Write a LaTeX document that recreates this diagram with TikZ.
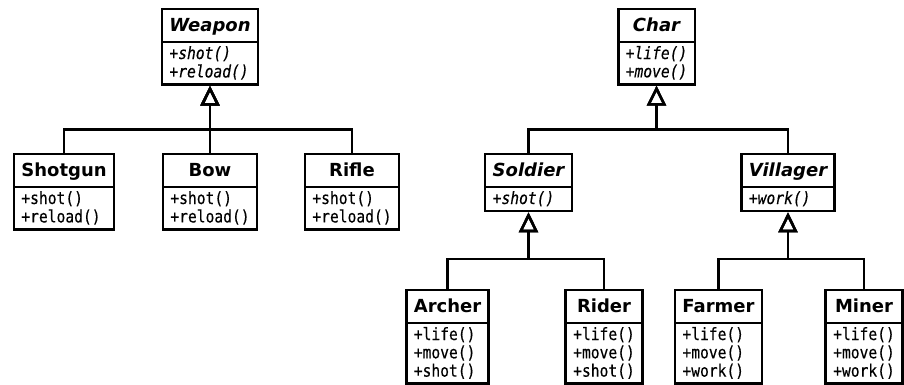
\documentclass[tikz,border=0pt]{standalone}
\usepackage{fontspec}
\setmainfont{DejaVu Sans}
\setmonofont[FakeStretch=0.86,FakeBold=0.4]{DejaVu Sans Mono}
\usepackage{tikz}
\usetikzlibrary{calc}
\usetikzlibrary{shapes.multipart,arrows.meta}

\tikzset{
    class/.style={draw, line width=2.6pt, rectangle split, rectangle split parts=2,
        rectangle split part align={center,left}, inner xsep=7.5pt, inner ysep=2pt, anchor=north},
    isa/.style={line width=2.6pt, -{Triangle[open,length=20pt,width=19pt]}},
}
\newcommand{\cname}[1]{\rule[-7pt]{0pt}{26.4pt}{\fontsize{18}{22}\selectfont\bfseries #1}}
\newcommand{\aname}[1]{\rule[-7pt]{0pt}{26.4pt}{\fontsize{18}{22}\selectfont\bfseries\itshape #1}}
\newcommand{\ops}[1]{{\fontsize{17}{18}\selectfont\ttfamily
    \raisebox{0pt}[13.7pt][\dimexpr\depth-1.7pt\relax]{\begin{tabular}[t]{@{}l@{}}#1\end{tabular}}}}
\newcommand{\aops}[1]{{\fontsize{17}{18}\selectfont\ttfamily\itshape
    \raisebox{0pt}[13.7pt][\dimexpr\depth-1.7pt\relax]{\begin{tabular}[t]{@{}l@{}}#1\end{tabular}}}}

\begin{document}
\begin{tikzpicture}
        \useasboundingbox (0,0) rectangle (904pt,-384pt);
        % weapons
        \node[class] (weapon) at (210pt,-7.7pt) {\aname{Weapon}\nodepart{two}\aops{+shot()\\+reload()}};
        \node[class] (shotgun) at (64pt,-152.7pt) {\cname{Shotgun}\nodepart{two}\ops{+shot()\\+reload()}};
        \node[class] (bow) at (210pt,-152.7pt) {\cname{Bow}\nodepart{two}\ops{+shot()\\+reload()}};
        \node[class] (rifle) at (352pt,-152.7pt) {\cname{Rifle}\nodepart{two}\ops{+shot()\\+reload()}};
        \coordinate (wbus) at ($(weapon.south)+(0,-43.7pt)$);
        \draw[isa] (shotgun.north) |- (wbus) -- (weapon.south);
        \draw[isa] (bow.north) -- (weapon.south);
        \draw[isa] (rifle.north) |- (wbus) -- (weapon.south);
        % characters
        \node[class] (char) at (656.5pt,-7.7pt) {\aname{Char}\nodepart{two}\aops{+life()\\+move()}};
        \node[class] (soldier) at (528.5pt,-152.7pt) {\aname{Soldier}\nodepart{two}\aops{+shot()}};
        \node[class] (villager) at (788pt,-152.7pt) {\aname{Villager}\nodepart{two}\aops{+work()}};
        \coordinate (cbus) at ($(char.south)+(0,-43.7pt)$);
        \draw[isa] (soldier.north) |- (cbus) -- (char.south);
        \draw[isa] (villager.north) |- (cbus) -- (char.south);
        \node[class] (archer) at (447.5pt,-288.7pt) {\cname{Archer}\nodepart{two}\ops{+life()\\+move()\\+shot()}};
        \node[class] (rider) at (604pt,-288.7pt) {\cname{Rider}\nodepart{two}\ops{+life()\\+move()\\+shot()}};
        \node[class] (farmer) at (718.5pt,-288.7pt) {\cname{Farmer}\nodepart{two}\ops{+life()\\+move()\\+work()}};
        \node[class] (miner) at (864pt,-288.7pt) {\cname{Miner}\nodepart{two}\ops{+life()\\+move()\\+work()}};
        \coordinate (sbus) at ($(soldier.south)+(0,-46.7pt)$);
        \coordinate (vbus) at ($(villager.south)+(0,-46.7pt)$);
        \draw[isa] (archer.north) |- (sbus) -- (soldier.south);
        \draw[isa] (rider.north) |- (sbus) -- (soldier.south);
        \draw[isa] (farmer.north) |- (vbus) -- (villager.south);
        \draw[isa] (miner.north) |- (vbus) -- (villager.south);
\end{tikzpicture}
\end{document}
